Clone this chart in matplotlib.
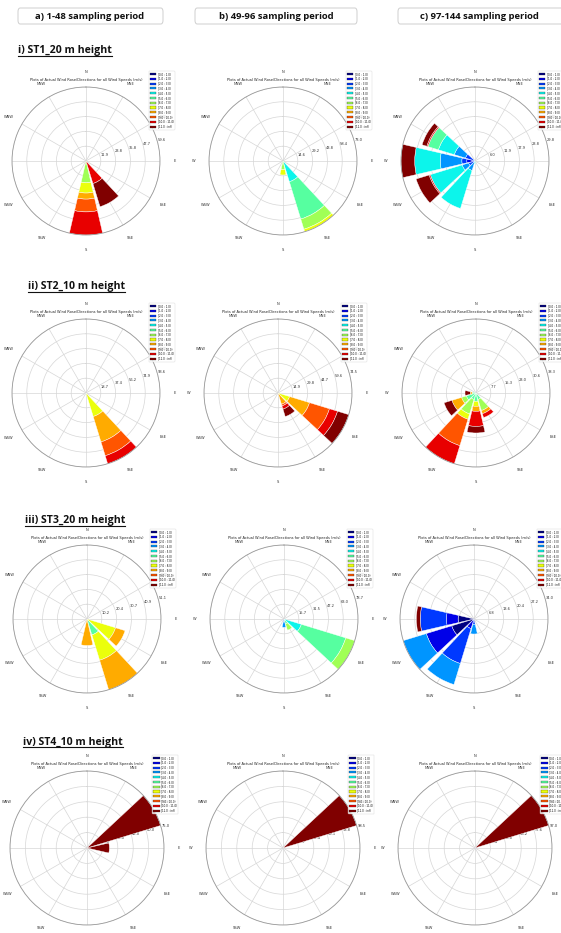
import numpy as np
import matplotlib
matplotlib.use("Agg")
import matplotlib.pyplot as plt
from matplotlib.patches import Patch, FancyBboxPatch
from matplotlib.lines import Line2D

W_PX, H_PX, DPI = 561, 933, 100

DIRECTIONS = ["N", "NNE", "ENE", "E", "ESE", "SSE", "S", "SSW", "WSW", "W", "WNW", "NNW"]
SPEED_LABELS = [f"[{a:.1f} : {a + 1:.1f})" for a in range(11)] + ["[11.0 : inf)"]

PERIODS = ["a) 1-48 sampling period", "b) 49-96 sampling period", "c) 97-144 sampling period"]
STATIONS = ["i) ST1_20 m height", "ii) ST2_10 m height", "iii) ST3_20 m height", "iv) ST4_10 m height"]

# frequency per direction, split by speed bin index
ST1_P1 = {"S": {6: 17.6, 7: 8.2, 8: 4.9, 9: 10.3, 10: 18.6},
          "SSE": {10: 19.0, 11: 19.5}}
ST1_P2 = {"SSE": {4: 21.4, 5: 38.5, 6: 10.5, 7: 2.6},
          "S": {6: 8.6, 7: 5.2}}
ST1_P3 = {"W": {1: 3.3, 2: 2.0, 3: 8.7, 4: 10.3, 11: 5.5},
          "WNW": {2: 4.0, 3: 4.7, 4: 6.7, 5: 4.4, 10: 0.5, 11: 2.0},
          "WSW": {2: 2.7, 3: 2.7, 4: 13.4, 10: 0.5, 11: 5.5},
          "SSW": {3: 4.0, 4: 16.0},
          "S": {4: 1.0}}

ST2_P1 = {"SSE": {7: 31.1, 8: 33.6, 9: 18.3, 10: 10.6},
          "S": {4: 1.0}}
ST2_P2 = {"ESE": {7: 12.2, 8: 21.0, 9: 21.0, 10: 8.5, 11: 11.8},
          "SSE": {8: 11.9, 9: 1.7, 10: 3.4, 11: 7.8}}
ST2_P3 = {"SSW": {5: 3.5, 6: 7.8, 7: 2.9, 9: 14.3, 10: 9.8},
          "WSW": {5: 5.2, 6: 2.6, 8: 5.2, 11: 4.3},
          "S": {5: 4.3, 7: 2.6, 8: 2.6, 10: 7.8, 11: 3.4},
          "SSE": {5: 3.5, 6: 6.0, 8: 1.7, 10: 2.1},
          "W": {5: 2.0, 8: 1.0, 11: 2.7}}

ST3_P1 = {"SSE": {5: 11.5, 7: 18.3, 8: 21.3},
          "ESE": {7: 20.6, 8: 6.9},
          "S": {8: 18.3}}
ST3_P2 = {"ESE": {4: 19.3, 5: 49.4, 6: 10.0},
          "SSE": {4: 1.5, 5: 4.0, 6: 7.0},
          "S": {2: 3.0, 3: 5.9}}
ST3_P3 = {"W": {0: 7.3, 1: 5.4, 2: 12.0, 11: 1.8},
          "WSW": {0: 10.7, 1: 12.2, 3: 11.1},
          "SSW": {1: 4.6, 2: 16.8, 3: 10.1},
          "S": {2: 2.5, 3: 4.4}}

ST4_P1 = {"ENE": {11: 75.0},
          "E": {11: 21.8}}
ST4_P2 = {"ENE": {11: 98.5}}
ST4_P3 = {"ENE": {11: 97.0},
          "E": {1: 1.5}}

PANELS = [[ST1_P1, ST1_P2, ST1_P3],
          [ST2_P1, ST2_P2, ST2_P3],
          [ST3_P1, ST3_P2, ST3_P3],
          [ST4_P1, ST4_P2, ST4_P3]]

# circle centres (px) for each row / column and the circle radius
ROW_Y = [161, 393, 619, 848]
COL_X = [[86, 283, 475], [86, 278, 476], [87, 284, 474], [87, 283, 475]]
RADIUS = [74, 74, 74, 77]
TITLE_Y = [51, 287, 521, 742]
TITLE_X = [18, 28, 25, 23]

COLORS = [plt.cm.jet(v) for v in np.linspace(0.0, 1.0, len(SPEED_LABELS))]
ROSE_TITLE = "Plots of Actual Wind Rose/Directions for all Wind Speeds (m/s)"


def fx(x):
    return x / W_PX


def fy(y):
    return 1 - y / H_PX


def draw_rose(ax, freq, rad):
    theta = np.deg2rad(np.arange(len(DIRECTIONS)) * 30)
    table = np.zeros((len(DIRECTIONS), len(SPEED_LABELS)))
    for name, bins in freq.items():
        for b, v in bins.items():
            table[DIRECTIONS.index(name), b] = v

    ax.set_theta_zero_location("N")
    ax.set_theta_direction(-1)
    ax.set_axisbelow(True)

    bottom = np.zeros(len(DIRECTIONS))
    for b in range(len(SPEED_LABELS)):
        keep = table[:, b] > 0
        if keep.any():
            ax.bar(theta[keep], table[keep, b], width=np.deg2rad(26), bottom=bottom[keep],
                   color=COLORS[b], edgecolor="white", linewidth=0.3, zorder=2)
        bottom += table[:, b]

    rmax = bottom.max()
    ax.set_ylim(0, rmax)
    ticks = np.linspace(0, rmax, 6)[1:]
    ax.set_rgrids(ticks, [f"{t:.1f}" for t in ticks], angle=75, fontsize=2.6, color="#333333")
    ax.set_thetagrids(np.arange(len(DIRECTIONS)) * 30, DIRECTIONS, fontsize=2.6, color="#333333")
    ax.tick_params(axis="x", pad=0.3)
    ax.grid(True, color="#d6d6d6", linewidth=0.5)
    ax.spines["polar"].set_color("#999999")
    ax.spines["polar"].set_linewidth(0.6)
    ax.text(0.5, 1 + 7.0 / (2 * rad), ROSE_TITLE, transform=ax.transAxes, ha="center",
            va="center", fontsize=2.6, color="#222222")

    handles = [Patch(facecolor=c, edgecolor="#222222", linewidth=0.2) for c in COLORS]
    leg = ax.legend(handles, SPEED_LABELS, loc="upper left",
                    bbox_to_anchor=(0.925, 1 + 16.0 / (2 * rad)),
                    fontsize=1.9, frameon=True, borderaxespad=0, handlelength=2.4,
                    handleheight=0.9, labelspacing=0.3, borderpad=0.35, handletextpad=0.6)
    leg.get_frame().set_linewidth(0.3)
    leg.get_frame().set_edgecolor("#cccccc")


fig = plt.figure(figsize=(W_PX / DPI, H_PX / DPI), dpi=DPI)

# column headers in rounded boxes
header_boxes = [(18, 163, 90), (195, 357, 276), (398, 566, 479)]
for (x0, x1, xc), text in zip(header_boxes, PERIODS):
    box = FancyBboxPatch((fx(x0), fy(24)), fx(x1) - fx(x0), fy(8) - fy(24),
                         boxstyle="round,pad=0,rounding_size=0.004", transform=fig.transFigure,
                         facecolor="white", edgecolor="#cfcfcf", linewidth=0.7)
    fig.patches.append(box)
    fig.text(fx(xc), fy(16.5), text, ha="center", va="center", fontsize=6.8,
             fontweight="bold", family="Open Sans", color="#111111")

# station titles, underlined
title_texts = []
for x, y, label in zip(TITLE_X, TITLE_Y, STATIONS):
    t = fig.text(fx(x), fy(y), label, ha="left", va="center",
                 fontsize=7.6, fontweight="bold", family="Open Sans", color="#111111")
    title_texts.append(t)

for r, row in enumerate(PANELS):
    for c, freq in enumerate(row):
        cx, cy, rad = COL_X[r][c], ROW_Y[r], RADIUS[r]
        ax = fig.add_axes([fx(cx - rad), fy(cy + rad), 2 * rad / W_PX, 2 * rad / H_PX],
                          projection="polar")
        draw_rose(ax, freq, rad)

fig.canvas.draw()
renderer = fig.canvas.get_renderer()
for t in title_texts:
    bb = t.get_window_extent(renderer).transformed(fig.transFigure.inverted())
    fig.add_artist(Line2D([bb.x0, bb.x1], [bb.y0 + 0.0005, bb.y0 + 0.0005],
                          transform=fig.transFigure, color="#111111", linewidth=0.8))

fig.savefig("out.png", dpi=DPI)
